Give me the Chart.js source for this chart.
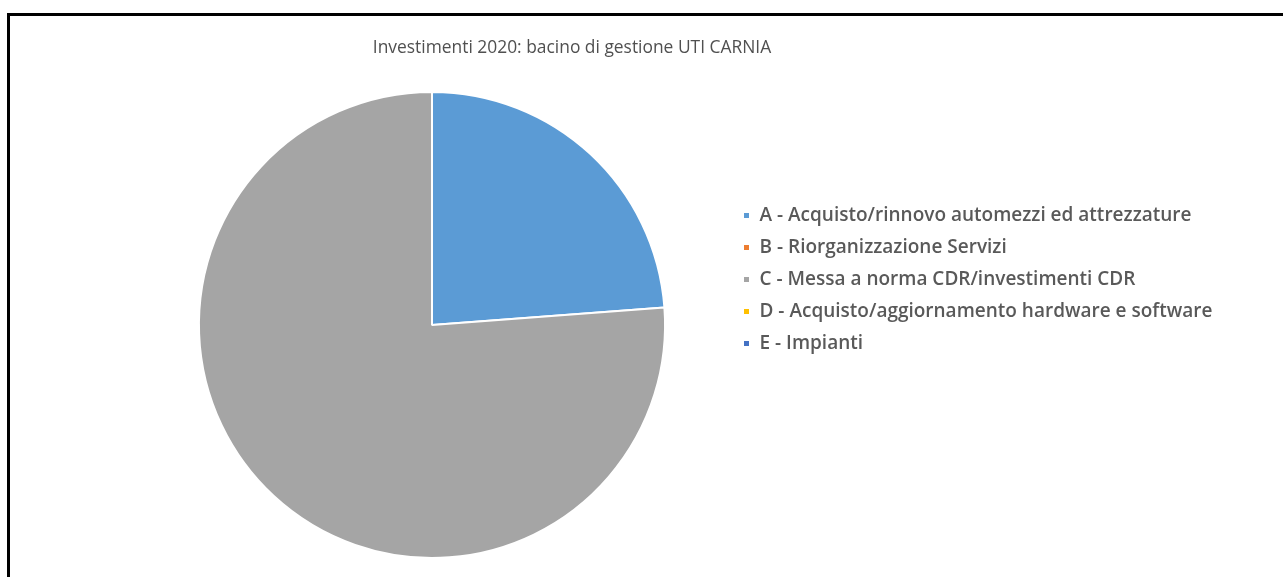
<!DOCTYPE html>
<html>
<head>
<meta charset="utf-8">
<script src="https://cdn.jsdelivr.net/npm/chart.js@4.4.1/dist/chart.umd.min.js"></script>
<style>
  html, body { margin: 0; padding: 0; background: #fff; overflow: hidden; }
  #wrap { position: relative; width: 1283px; height: 577px; }
  #frame {
    position: absolute; left: 7px; top: 13px; right: -10px; bottom: -10px;
    border-top: 3px solid #000; border-left: 3px solid #000;
    pointer-events: none;
  }
  #chart { position: absolute; left: 0; top: 0; }
</style>
</head>
<body>
<div id="wrap">
  <canvas id="chart" width="1283" height="577"></canvas>
  <div id="frame"></div>
</div>
<script>
const chartTitle = 'Investimenti 2020: bacino di gestione UTI CARNIA';
const categories = [
  'A - Acquisto/rinnovo automezzi ed attrezzature',
  'B - Riorganizzazione Servizi',
  'C - Messa a norma CDR/investimenti CDR',
  'D - Acquisto/aggiornamento hardware e software',
  'E - Impianti'
];
const shares = [23.8, 0, 76.2, 0, 0];
const sliceColors = ['#5B9BD5', '#ED7D31', '#A5A5A5', '#FFC000', '#4472C4'];

const legendFont = { family: 'Open Sans', size: 19, weight: '600' };
const legendPad = 13;
const legendBox = 7;
const legendLeft = 730;   // where the legend block starts
const pieCenterX = 432;

// measure the legend so the pie and legend land where the original has them
const probe = document.createElement('canvas').getContext('2d');
probe.font = legendFont.weight + ' ' + legendFont.size + 'px "' + legendFont.family + '"';
const longest = Math.max(...categories.map(c => probe.measureText(c).width));
const legendWidth = legendPad + legendBox + legendFont.size / 2 + longest + 10;
const padRight = Math.max(0, 1283 - legendLeft - legendWidth);
const padLeft = 2 * pieCenterX - legendLeft;

// keep the title centred over the frame, not over pie + legend
const frameTitle = {
  id: 'frameTitle',
  afterLayout(chart) {
    const t = chart.titleBlock;
    t.left = 8;
    t.right = 1136;
    t.width = t.right - t.left;
  }
};

new Chart(document.getElementById('chart'), {
  type: 'pie',
  data: {
    labels: categories,
    datasets: [{
      data: shares,
      backgroundColor: sliceColors,
      borderColor: '#ffffff',
      borderWidth: 2
    }]
  },
  options: {
    responsive: false,
    animation: false,
    layout: {
      padding: { left: padLeft, right: padRight, top: 0, bottom: 18 }
    },
    plugins: {
      title: {
        display: true,
        text: chartTitle,
        color: '#505050',
        font: { family: 'Open Sans', size: 17.4, weight: 'normal' },
        padding: { top: 38, bottom: 32 }
      },
      legend: {
        position: 'right',
        align: 'center',
        labels: {
          color: '#595959',
          font: legendFont,
          boxWidth: legendBox,
          boxHeight: legendBox,
          padding: legendPad
        }
      },
      tooltip: { enabled: false }
    }
  },
  plugins: [frameTitle]
});
</script>
</body>
</html>
